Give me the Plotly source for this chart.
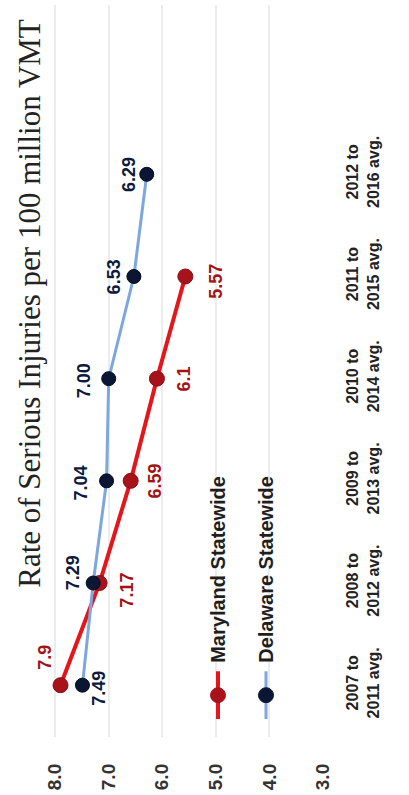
import plotly.graph_objects as go

# Five-year rolling averages of serious injuries per 100 million VMT
periods = ["2007 to<br>2011 avg.", "2008 to<br>2012 avg.", "2009 to<br>2013 avg.",
           "2010 to<br>2014 avg.", "2011 to<br>2015 avg.", "2012 to<br>2016 avg."]
maryland = [7.9, 7.17, 6.59, 6.1, 5.57]
maryland_labels = ["7.9", "7.17", "6.59", "6.1", "5.57"]
delaware = [7.49, 7.29, 7.04, 7.00, 6.53, 6.29]
delaware_labels = ["7.49", "7.29", "7.04", "7.00", "6.53", "6.29"]
value_ticks = [3.0, 4.0, 5.0, 6.0, 7.0, 8.0]

# The chart is laid out sideways: values run along x (reversed), periods along y.
W, H = 409, 795
ML, MR, MT, MB = 23, 86, 5, 55
PW, PH = W - ML - MR, H - MT - MB

MD_LINE, MD_DOT, MD_TEXT = "#e3161c", "#a8121a", "#a31216"
DE_LINE, DE_DOT, DE_TEXT = "#7ea6df", "#0b1634", "#0d1a3d"

def px(x, y):
    """pixel position -> paper coordinates"""
    return (x - ML) / PW, (H - MB - y) / PH

fig = go.Figure()
fig.add_trace(go.Scatter(
    x=maryland, y=list(range(len(maryland))), mode="lines+markers",
    line=dict(color=MD_LINE, width=4),
    marker=dict(color=MD_DOT, size=15, line=dict(color="#8c0f15", width=1)),
    showlegend=False, hoverinfo="skip"))
fig.add_trace(go.Scatter(
    x=delaware, y=list(range(len(delaware))), mode="lines+markers",
    line=dict(color=DE_LINE, width=3),
    marker=dict(color=DE_DOT, size=14, line=dict(color="#050b1c", width=1)),
    showlegend=False, hoverinfo="skip"))

annotations = []
# value labels, written sideways next to each point (offsets in px: right, down)
md_offsets = [(-15, -28), (27, 7), (24, 0), (27, 0), (31, 5)]
de_offsets = [(17, 3), (-20, -10), (-26, 2), (-25, 2), (-19, 0), (-17, 0)]
for i, (v, t) in enumerate(zip(maryland, maryland_labels)):
    dx, dy = md_offsets[i]
    annotations.append(dict(x=v, y=i, xref="x", yref="y", text=t, showarrow=False,
                            textangle=-90, xshift=dx, yshift=-dy,
                            font=dict(family="Liberation Sans, Arial", size=18,
                                      color=MD_TEXT, weight="bold")))
for i, (v, t) in enumerate(zip(delaware, delaware_labels)):
    dx, dy = de_offsets[i]
    annotations.append(dict(x=v, y=i, xref="x", yref="y", text=t, showarrow=False,
                            textangle=-90, xshift=dx, yshift=-dy,
                            font=dict(family="Liberation Sans, Arial", size=18,
                                      color=DE_TEXT, weight="bold")))

# title along the left edge
tx, ty = px(30, 305)
annotations.append(dict(x=tx, y=ty, xref="paper", yref="paper",
                        text="Rate of Serious Injuries per 100 million VMT",
                        showarrow=False, textangle=-90, xanchor="center", yanchor="middle",
                        font=dict(family="Liberation Serif, Times New Roman", size=31,
                                  color="#222222")))

# hand-drawn legend, rotated with the chart
shapes = []
legend_items = [("Maryland Statewide", MD_LINE, MD_DOT, 4, 218),
                ("Delaware Statewide", DE_LINE, DE_DOT, 3, 266)]
for name, lc, dc, lw, cx in legend_items:
    x0, y0 = px(cx, 722)
    x1, y1 = px(cx, 674)
    shapes.append(dict(type="line", xref="paper", yref="paper", x0=x0, x1=x1,
                       y0=y0, y1=y1, line=dict(color=lc, width=lw)))
    a0, b0 = px(cx - 7.5, 705.5)
    a1, b1 = px(cx + 7.5, 690.5)
    shapes.append(dict(type="circle", xref="paper", yref="paper", x0=a0, x1=a1,
                       y0=b0, y1=b1, fillcolor=dc, line=dict(color=dc, width=1)))
    lx, ly = px(cx, 668)
    annotations.append(dict(x=lx, y=ly, xref="paper", yref="paper", text=name,
                            showarrow=False, textangle=-90, xanchor="center",
                            yanchor="bottom",
                            font=dict(family="Liberation Sans, Arial", size=20,
                                      color="#1e1e1e", weight="bold")))

fig.update_layout(
    width=W, height=H,
    margin=dict(l=ML, r=MR, t=MT, b=MB),
    paper_bgcolor="white", plot_bgcolor="white",
    annotations=annotations, shapes=shapes,
    xaxis=dict(range=[8.6, 3.0], tickvals=value_ticks,
               ticktext=[f"{v:.1f}" for v in value_ticks],
               tickangle=-90, showgrid=True, gridcolor="#ececec", gridwidth=2,
               zeroline=False, showline=False, ticks="", ticklabelstandoff=22,
               tickfont=dict(family="Liberation Sans, Arial", size=19,
                             color="#333333", weight="bold")),
    yaxis=dict(range=[-0.507, 6.657], tickvals=list(range(len(periods))),
               ticktext=periods, side="right", tickangle=-90,
               showgrid=False, zeroline=False, showline=False, ticks="",
               ticklabelstandoff=18,
               tickfont=dict(family="Liberation Sans, Arial", size=16,
                             color="#222222", weight="bold")),
)

fig.write_html("out.html")
